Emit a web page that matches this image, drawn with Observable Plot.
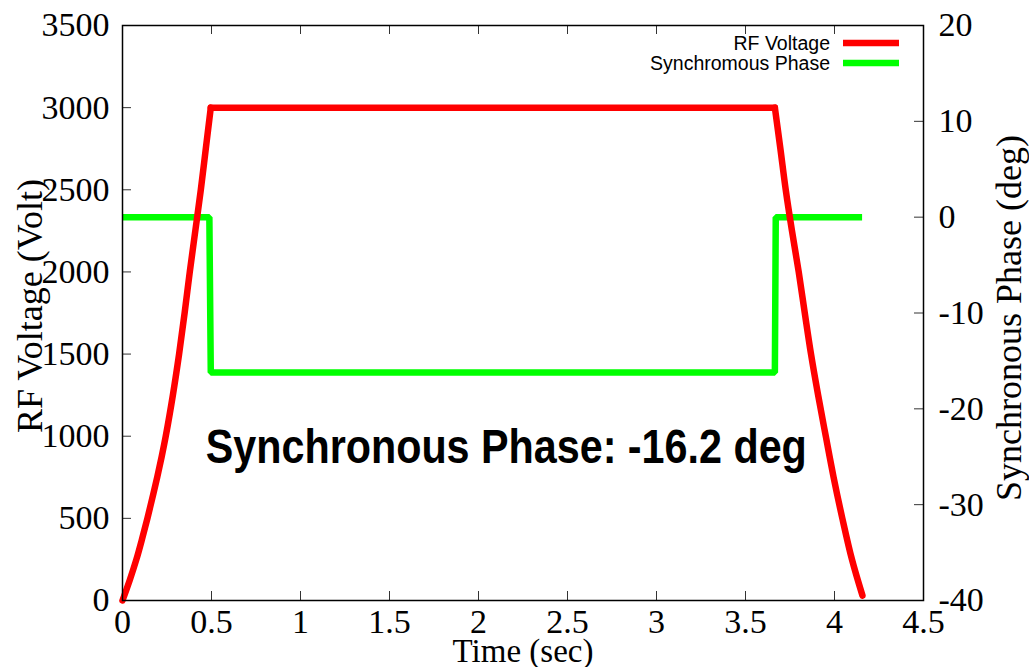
<!DOCTYPE html>
<html>
<head>
<meta charset="utf-8">
<script src="https://cdn.jsdelivr.net/npm/d3@7"></script>
<script src="https://cdn.jsdelivr.net/npm/@observablehq/plot@0.6"></script>
<style>
  html, body { margin: 0; padding: 0; background: #fff; }
  #chart svg { display: block; }
</style>
</head>
<body>
<div id="chart"></div>
<script>
// RF voltage program (left axis, Volt): ramp up, flat top, ramp down
const rampUpTime = [0, 0.041, 0.078, 0.11, 0.14, 0.168, 0.195, 0.22, 0.243, 0.283, 0.318, 0.349, 0.378, 0.409, 0.44, 0.468, 0.496];
const rampUpVolt = [0, 125, 250, 375, 500, 625, 750, 875, 1000, 1250, 1500, 1750, 2000, 2250, 2500, 2750, 3000];
const flatTime = [0.496, 3.665];
const flatVolt = [3000, 3000];
const rampDownTime = [3.665, 3.696, 3.726, 3.761, 3.799, 3.833, 3.868, 3.908, 3.951, 3.995, 4.044, 4.098, 4.157];
const rampDownVolt = [3000, 2750, 2500, 2250, 2000, 1750, 1500, 1250, 1000, 750, 500, 250, 30];

// Synchronous phase program (right axis, deg)
const phaseTime = [0, 0.488, 0.496, 3.665, 3.670, 4.155];
const phaseDeg  = [0, 0, -16.2, -16.2, 0, 0];
const phaseNote = -16.2;

// Axes
const timeDomain = [0, 4.5];
const voltDomain = [0, 3500];
const phaseDomain = [-40, 20];
const timeTicks = [0, 0.5, 1, 1.5, 2, 2.5, 3, 3.5, 4, 4.5];
const timeTickLabels = ["0", "0.5", "1", "1.5", "2", "2.5", "3", "3.5", "4", "4.5"];
const voltTicks = [0, 500, 1000, 1500, 2000, 2500, 3000, 3500];
const phaseTicks = [-40, -30, -20, -10, 0, 10, 20];
const phaseTickLabels = ["-40", "-30", "-20", "-10", "0", "10", "20"];
const seriesNames = ["RF Voltage", "Synchromous Phase"];
const seriesColors = ["#ff0000", "#00ff00"];

// phase values share the voltage scale through a linear map of the y2 range
const toVolt = p => (p - phaseDomain[0]) / (phaseDomain[1] - phaseDomain[0]) * (voltDomain[1] - voltDomain[0]) + voltDomain[0];

const rf = [
  ...rampUpTime.map((t, i) => ({part: "up", t, v: rampUpVolt[i]})),
  ...flatTime.map((t, i) => ({part: "flat", t, v: flatVolt[i]})),
  ...rampDownTime.map((t, i) => ({part: "down", t, v: rampDownVolt[i]}))
];
const phase = phaseTime.map((t, i) => ({t, p: phaseDeg[i]}));

const W = 1029, H = 667;
const mL = 122, mR = 106, mT = 25, mB = 67;
const innerW = W - mL - mR, innerH = H - mT - mB;
const tickLen = 9;
const serif = "'Liberation Serif', 'Times New Roman', serif";
const sans = "'Liberation Sans', Arial, Helvetica, sans-serif";

const chart = Plot.plot({
  width: W,
  height: H,
  marginLeft: mL,
  marginRight: mR,
  marginTop: mT,
  marginBottom: mB,
  style: {fontFamily: serif, fontSize: "34px", background: "#fff", color: "#000"},
  x: {domain: timeDomain},
  y: {domain: voltDomain},
  marks: [
    // inward ticks on all four sides
    Plot.ruleY(voltTicks, {stroke: "#333", strokeWidth: 1, insetRight: innerW - tickLen}),
    Plot.ruleY(phaseTicks.map(toVolt), {stroke: "#333", strokeWidth: 1, insetLeft: innerW - tickLen}),
    Plot.ruleX(timeTicks, {stroke: "#333", strokeWidth: 1, insetTop: innerH - tickLen}),
    Plot.ruleX(timeTicks, {stroke: "#333", strokeWidth: 1, insetBottom: innerH - tickLen}),
    Plot.axisX(timeTicks, {tickSize: 0, tickPadding: 8, label: null, fontSize: 34,
      tickFormat: d => timeTickLabels[timeTicks.indexOf(d)]}),
    Plot.axisY(voltTicks, {anchor: "left", tickSize: 0, tickPadding: 13, label: null, fontSize: 34,
      tickFormat: d => String(d)}),
    Plot.axisY(phaseTicks.map(toVolt), {anchor: "right", tickSize: 0, tickPadding: 15, label: null, fontSize: 34,
      tickFormat: (d, i) => phaseTickLabels[i]}),
    // series
    Plot.line(phase, {x: "t", y: d => toVolt(d.p), stroke: seriesColors[1], strokeWidth: 6.5,
      strokeLinejoin: "miter", strokeLinecap: "butt"}),
    Plot.line(rf, {x: "t", y: "v", z: "part", stroke: seriesColors[0], strokeWidth: 6.5,
      curve: "catmull-rom", strokeLinejoin: "round", strokeLinecap: "round"}),
    Plot.frame({stroke: "#000", strokeWidth: 1.5}),
    // annotation
    Plot.text([`Synchronous Phase: ${phaseNote} deg`], {x: 0.468, y: 930, text: d => d,
      textAnchor: "start", lineAnchor: "middle", fontFamily: sans, fontWeight: "bold", fontSize: 49,
      fill: "#000", className: "phase-note"}),
    // axis titles
    Plot.text(["Time (sec)"], {frameAnchor: "bottom", text: d => d, lineAnchor: "middle", dy: 51,
      fontSize: 33, fill: "#000"}),
    Plot.text(["RF Voltage (Volt)"], {frameAnchor: "left", text: d => d, rotate: -90,
      textAnchor: "middle", lineAnchor: "middle", dx: -92, dy: -7, fontSize: 36, fill: "#000"}),
    Plot.text(["Synchronous Phase (deg)"], {frameAnchor: "right", text: d => d, rotate: -90,
      textAnchor: "middle", lineAnchor: "middle", dx: 86, dy: 5, fontSize: 36, fill: "#000"})
  ]
});

document.getElementById("chart").appendChild(chart);

const svg = d3.select(chart);
svg.selectAll(".phase-note text")
  .attr("textLength", 601)
  .attr("lengthAdjust", "spacingAndGlyphs");

// key in the upper right corner of the frame
const key = svg.append("g").attr("font-family", sans).attr("font-size", 19.5);
seriesNames.forEach((name, i) => {
  const cy = 43 + i * 20;
  key.append("text")
    .attr("x", 830).attr("y", cy).attr("dy", "0.35em")
    .attr("text-anchor", "end").attr("fill", "#000")
    .text(name);
  key.append("line")
    .attr("x1", 843).attr("x2", 899).attr("y1", cy).attr("y2", cy)
    .attr("stroke", seriesColors[i]).attr("stroke-width", 6.5);
});
</script>
</body>
</html>
